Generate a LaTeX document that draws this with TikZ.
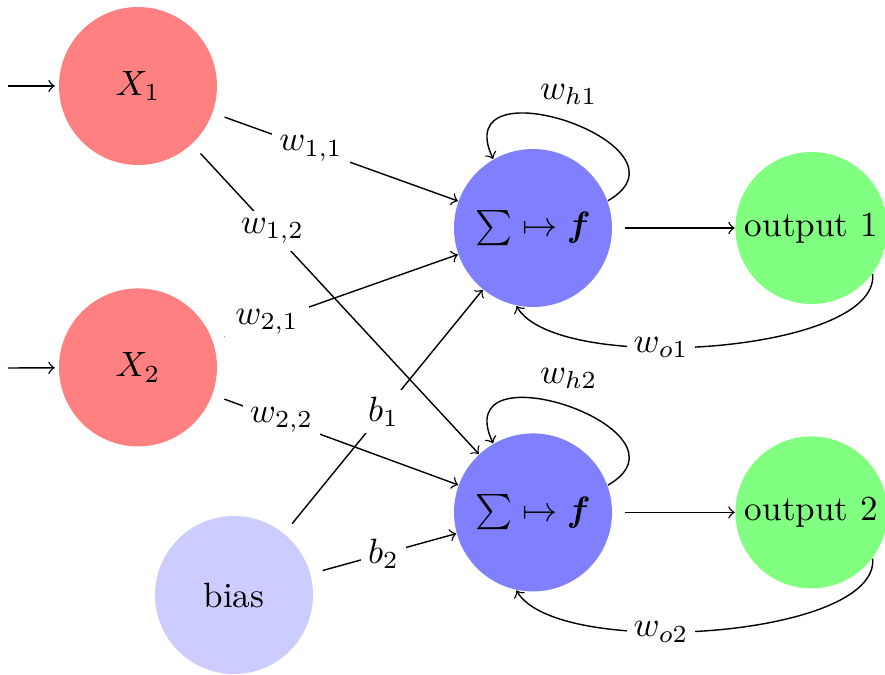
\documentclass[tikz,border=0pt]{standalone}
\usepackage{amsmath,amssymb}
\usetikzlibrary{positioning, arrows}

\begin{document}
\begin{tikzpicture}[
    node distance=1.22cm,
    neuron/.style={circle, inner sep=0pt, minimum size=1.58cm},
    inneuron/.style={neuron, fill=red!50},
    sumneuron/.style={neuron, fill=blue!50},
    biasneuron/.style={neuron, fill=blue!20},
    outneuron/.style={neuron, fill=green!50, minimum size=1.52cm},
    weight/.style={->, shorten <=3.5pt},
    wlabel/.style={fill=white, inner sep=2pt}
]
\useasboundingbox (0,0) rectangle (8.85,-6.75);

% Nodes
\node[inneuron] (x1) at (1.38,-0.86) {$X_1$};
\node[inneuron, below=of x1] (x2) {$X_2$};
\node[biasneuron] (bias) at (2.34,-5.95) {bias};

\node[sumneuron] (sum1) at (5.33,-2.28) {$\sum \mapsto \boldsymbol{f}$};
\node[sumneuron, below=1.25cm of sum1] (sum2) {$\sum \mapsto \boldsymbol{f}$};

\node[outneuron, right=of sum1] (out1) {output 1};
\node[outneuron, right=of sum2] (out2) {output 2};

\coordinate (in1) at (0.08,-0.86);
\coordinate (in2) at (0.08,-3.68);

% Inputs
\draw[->, shorten >=1pt] (in1) -- (x1);
\draw[->, shorten >=1pt] (in2) -- (x2);

% Weights
\draw[weight] (x1) -- node[wlabel, pos=0.4] {$w_{1,1}$} (sum1);
\draw[weight] (x1) -- node[wlabel, pos=0.28] {$w_{1,2}$} (sum2);
\draw[weight] (x2) -- node[wlabel, pos=0.22, inner sep=3pt] {$w_{2,1}$} (sum1);
\draw[weight] (x2) -- node[wlabel, pos=0.28] {$w_{2,2}$} (sum2);
\draw[weight] (bias) -- node[wlabel] {$b_1$} (sum1);
\draw[weight] (bias) -- node[wlabel] {$b_2$} (sum2);

% Outputs
\draw[weight] (sum1) -- (out1);
\draw[weight] (sum2) -- (out2);

% Recurrent loops
\draw[->] (sum1.20) to[out=30, in=115, looseness=2.3] node[above=1.5pt] {$w_{h1}$} (sum1.120);
\draw[->] (sum2.20) to[out=30, in=115, looseness=2.3] node[above=1.5pt] {$w_{h2}$} (sum2.120);
\draw[->] (out1.-37) to[out=-85, in=-60, looseness=0.57] node[wlabel, pos=0.6] {$w_{o1}$} (sum1.-102);
\draw[->] (out2.-37) to[out=-85, in=-60, looseness=0.57] node[wlabel, pos=0.6] {$w_{o2}$} (sum2.-102);

\end{tikzpicture}
\end{document}
